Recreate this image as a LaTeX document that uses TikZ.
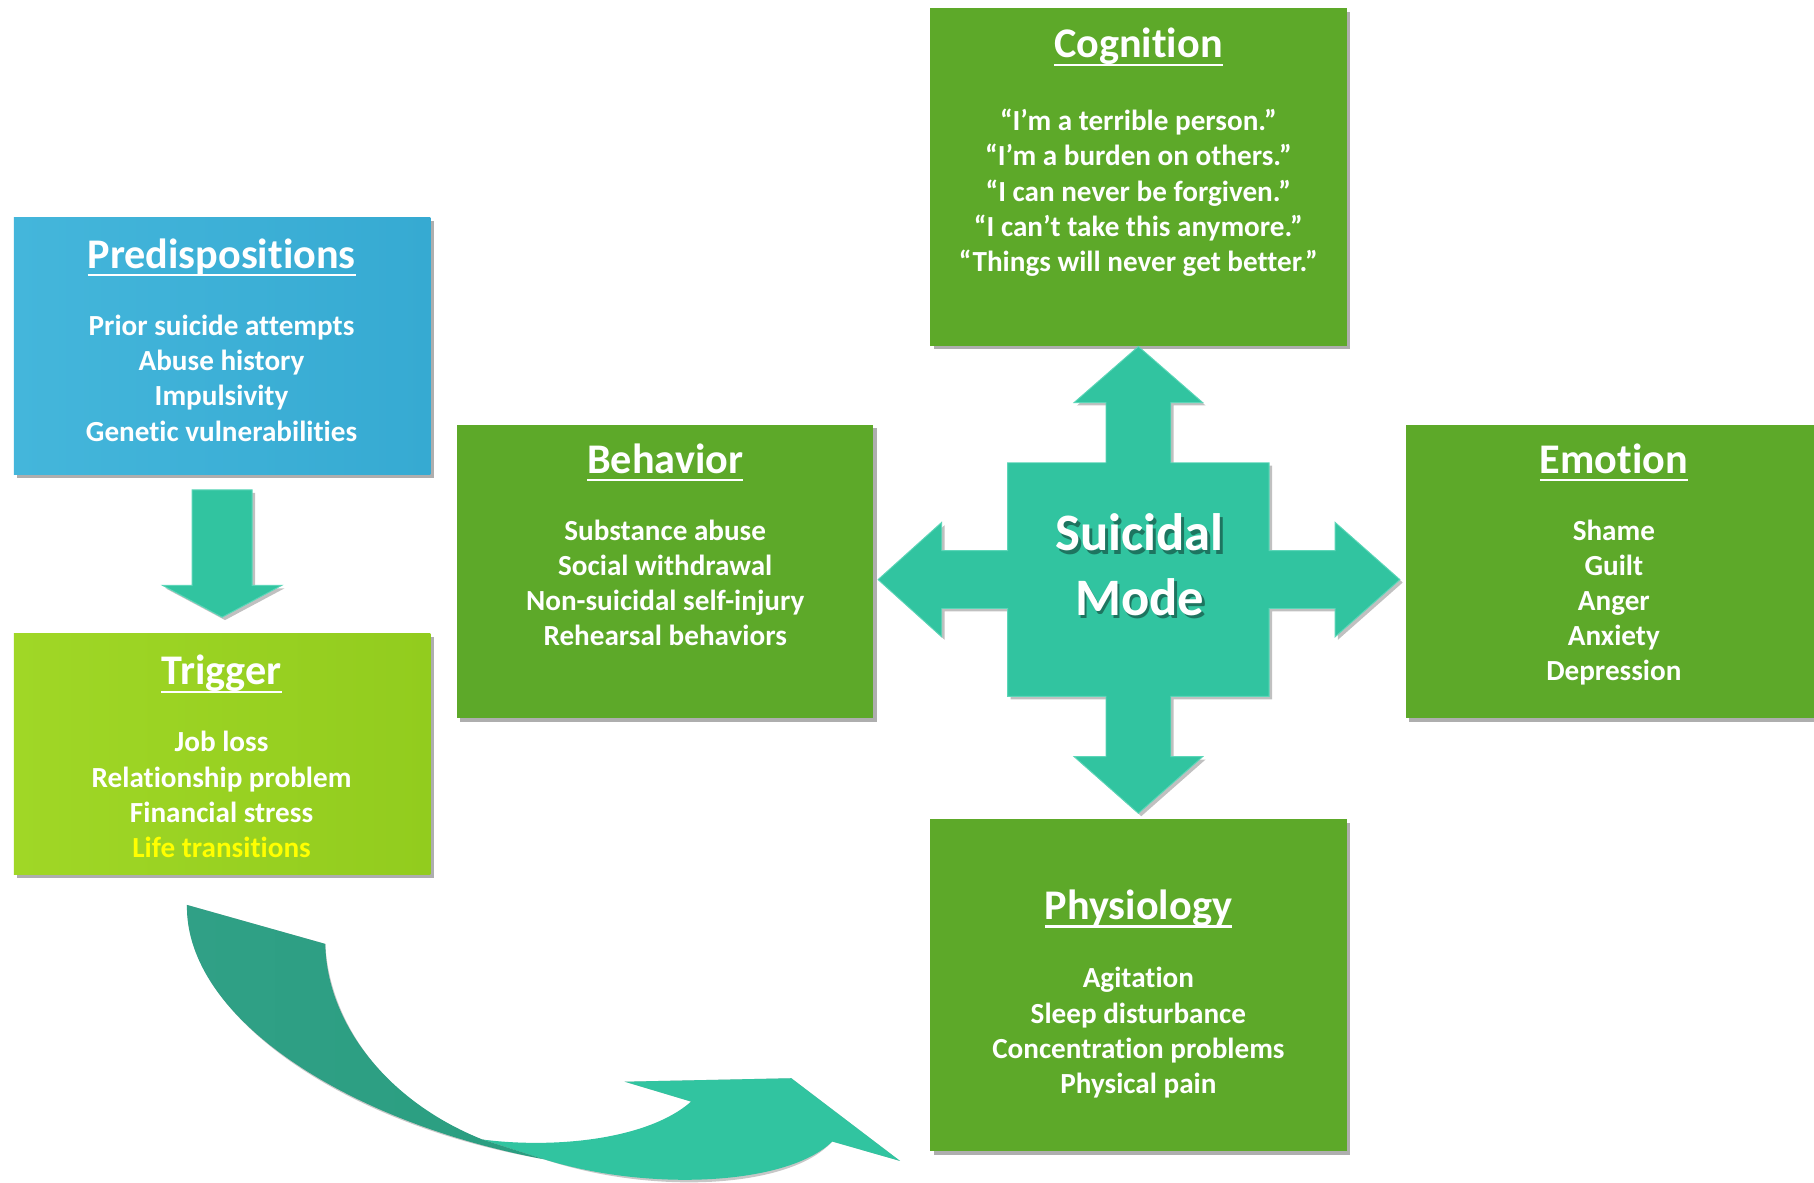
\documentclass[tikz,border=0pt]{standalone}
\usepackage{fontspec}
\setmainfont{Carlito}[Ligatures=NoCommon]
\usetikzlibrary{shadows,calc}
\definecolor{gboxc}{RGB}{93,169,41}
\definecolor{blueL}{RGB}{68,182,219}
\definecolor{blueR}{RGB}{54,170,210}
\definecolor{trigL}{RGB}{160,215,38}
\definecolor{trigR}{RGB}{146,204,30}
\definecolor{tealc}{RGB}{49,196,160}
\definecolor{tealedge}{RGB}{92,214,184}
\definecolor{darkteal}{RGB}{42,158,128}
\definecolor{darktealL}{RGB}{48,160,134}
\definecolor{ylw}{RGB}{255,255,0}
\newcommand\ttl[1]{\setbox0\hbox{#1}\rlap{\rule[-0.19em]{\wd0}{0.056em}}\box0}
\tikzset{
  panel/.style={rectangle, anchor=north west, inner sep=0pt, outer sep=0pt,
    drop shadow={shadow xshift=3pt, shadow yshift=-3pt, opacity=0.45, fill=black!70}},
  greenpanel/.style={panel, fill=gboxc},
  ttltext/.style={anchor=base, text=white, inner sep=0pt, font=\fontsize{36.5}{44}\selectfont\bfseries},
  bodytext/.style={anchor=base, text=white, align=center, inner sep=0pt, font=\fontsize{25.2}{30.4}\selectfont\bfseries},
  tealshape/.style={fill=tealc, draw=tealedge, line width=0.8pt, line join=miter,
    drop shadow={shadow xshift=2.5pt, shadow yshift=-2.5pt, opacity=0.35, fill=black!70}},
}
\begin{document}
\begin{tikzpicture}[x=1pt,y=-1pt]
\useasboundingbox (0,0) rectangle (1568,1022);
\fill[white] (0,0) rectangle (1568,1022);

% ---------- panels ----------
\node[panel, left color=blueL, right color=blueR, minimum width=360pt, minimum height=222pt] (pred) at (12,188) {};
\node[panel, left color=trigL, right color=trigR, minimum width=360pt, minimum height=208pt] (trig) at (12,548) {};
\node[greenpanel, minimum width=360pt, minimum height=254pt] (beh) at (395,367) {};
\node[greenpanel, minimum width=360pt, minimum height=292pt] (cog) at (804,7) {};
\node[greenpanel, minimum width=420pt, minimum height=254pt] (emo) at (1215,367) {};
\node[greenpanel, minimum width=360pt, minimum height=287pt] (phys) at (804,708) {};

% ---------- texts (base = baseline of last line) ----------
\node[ttltext] (predT) at (191.5,232) {\ttl{Predispositions}};
\node[bodytext] (predB) at (191.5,381.2) {Prior suicide attempts\\Abuse history\\Impulsivity\\Genetic vulnerabilities};

\node[ttltext] (trigT) at (191.5,592) {\ttl{Trigger}};
\node[bodytext] (trigB) at (191.5,741.2) {Job loss\\Relationship problem\\Financial stress\\\textcolor{ylw}{Life transitions}};

\node[ttltext] (behT) at (575,409) {\ttl{Behavior}};
\node[bodytext] (behB) at (575,558.2) {Substance abuse\\Social withdrawal\\Non-suicidal self-injury\\Rehearsal behaviors};

\node[ttltext] (cogT) at (984,50) {\ttl{Cognition}};
\node[bodytext] (cogB) at (984,234.6) {“I’m a terrible person.”\\“I’m a burden on others.”\\“I can never be forgiven.”\\“I can’t take this anymore.”\\“Things will never get better.”};

\node[ttltext] (emoT) at (1395,409) {\ttl{Emotion}};
\node[bodytext] (emoB) at (1395,588.6) {Shame\\Guilt\\Anger\\Anxiety\\Depression};

\node[ttltext] (physT) at (984,795) {\ttl{Physiology}};
\node[bodytext] (physB) at (984,945.2) {Agitation\\Sleep disturbance\\Concentration problems\\Physical pain};

% ---------- arrow predispositions -> trigger ----------
\coordinate (pa) at ($(pred.south)+(0,13.5)$);
\coordinate (pb) at ($(trig.north)+(0,-14.5)$);
\path[tealshape] ($(pa)+(-26,0)$) -- ($(pa)+(26,0)$) -- ($(pb)+(26,-27.5)$) -- ($(pb)+(51.5,-27.5)$)
  -- (pb) -- ($(pb)+(-51.5,-27.5)$) -- ($(pb)+(-26,-27.5)$) -- cycle;

% ---------- central cross ----------
\coordinate (c) at (984,501);
\path[tealshape, shift={(c)}]
  (0,-201.5) -- (55.6,-153) -- (28,-153) -- (28,-101) -- (113,-101) -- (113,-25)
  -- (170,-25) -- (170,-49.5) -- (226,0) -- (170,49.5) -- (170,25) -- (113,25)
  -- (113,101) -- (28,101) -- (28,153) -- (55.6,153) -- (0,202) -- (-55.6,153)
  -- (-28,153) -- (-28,101) -- (-113,101) -- (-113,25) -- (-170,25) -- (-170,49.5)
  -- (-225,0) -- (-170,-49.5) -- (-170,-25) -- (-113,-25) -- (-113,-101) -- (-28,-101)
  -- (-28,-153) -- (-55.6,-153) -- cycle;
\node[anchor=base, align=center, text=black, opacity=0.4, inner sep=0pt,
  font=\fontsize{45.5}{55.6}\selectfont\bfseries] (modeshadow) at (987.5,534.6) {Suicidal\\Mode};
\node[anchor=base, align=center, text=white, inner sep=0pt,
  font=\fontsize{45.5}{55.6}\selectfont\bfseries] (mode) at (985,531.6) {Suicidal\\Mode};

% ---------- curved twisted arrow ----------
\coordinate (A) at (161.6,782.2);
\coordinate (B) at (281.2,815.9);
\coordinate (X1) at (417,985);
\coordinate (X2) at (470,1002);
\coordinate (G) at (597.4,952.2);
\coordinate (C) at (540,935);
\coordinate (D) at (684,932);
\coordinate (E) at (778,1003.5);
\coordinate (F) at (719.4,986.7);
\begin{scope}[shift={(2.5,3)}]
\fill[black, opacity=0.22] (A) -- (B) .. controls (282,880) and (330,950) .. (X1)
  .. controls (480,993) and (560,985) .. (G) -- (C) -- (D) -- (E) -- (F)
  .. controls (680,1025) and (560,1030) .. (X2)
  .. controls (300,970) and (160,880) .. (A) -- cycle;
\end{scope}
\fill[tealc] (X1) .. controls (480,993) and (560,985) .. (G) -- (C) -- (D) -- (E) -- (F)
  .. controls (680,1025) and (560,1030) .. (X2) -- cycle;
\shade[left color=darktealL, right color=darkteal] (A) -- (B) .. controls (282,880) and (330,950) .. (X1) -- (X2)
  .. controls (300,970) and (160,880) .. (A) -- cycle;
\end{tikzpicture}
\end{document}
